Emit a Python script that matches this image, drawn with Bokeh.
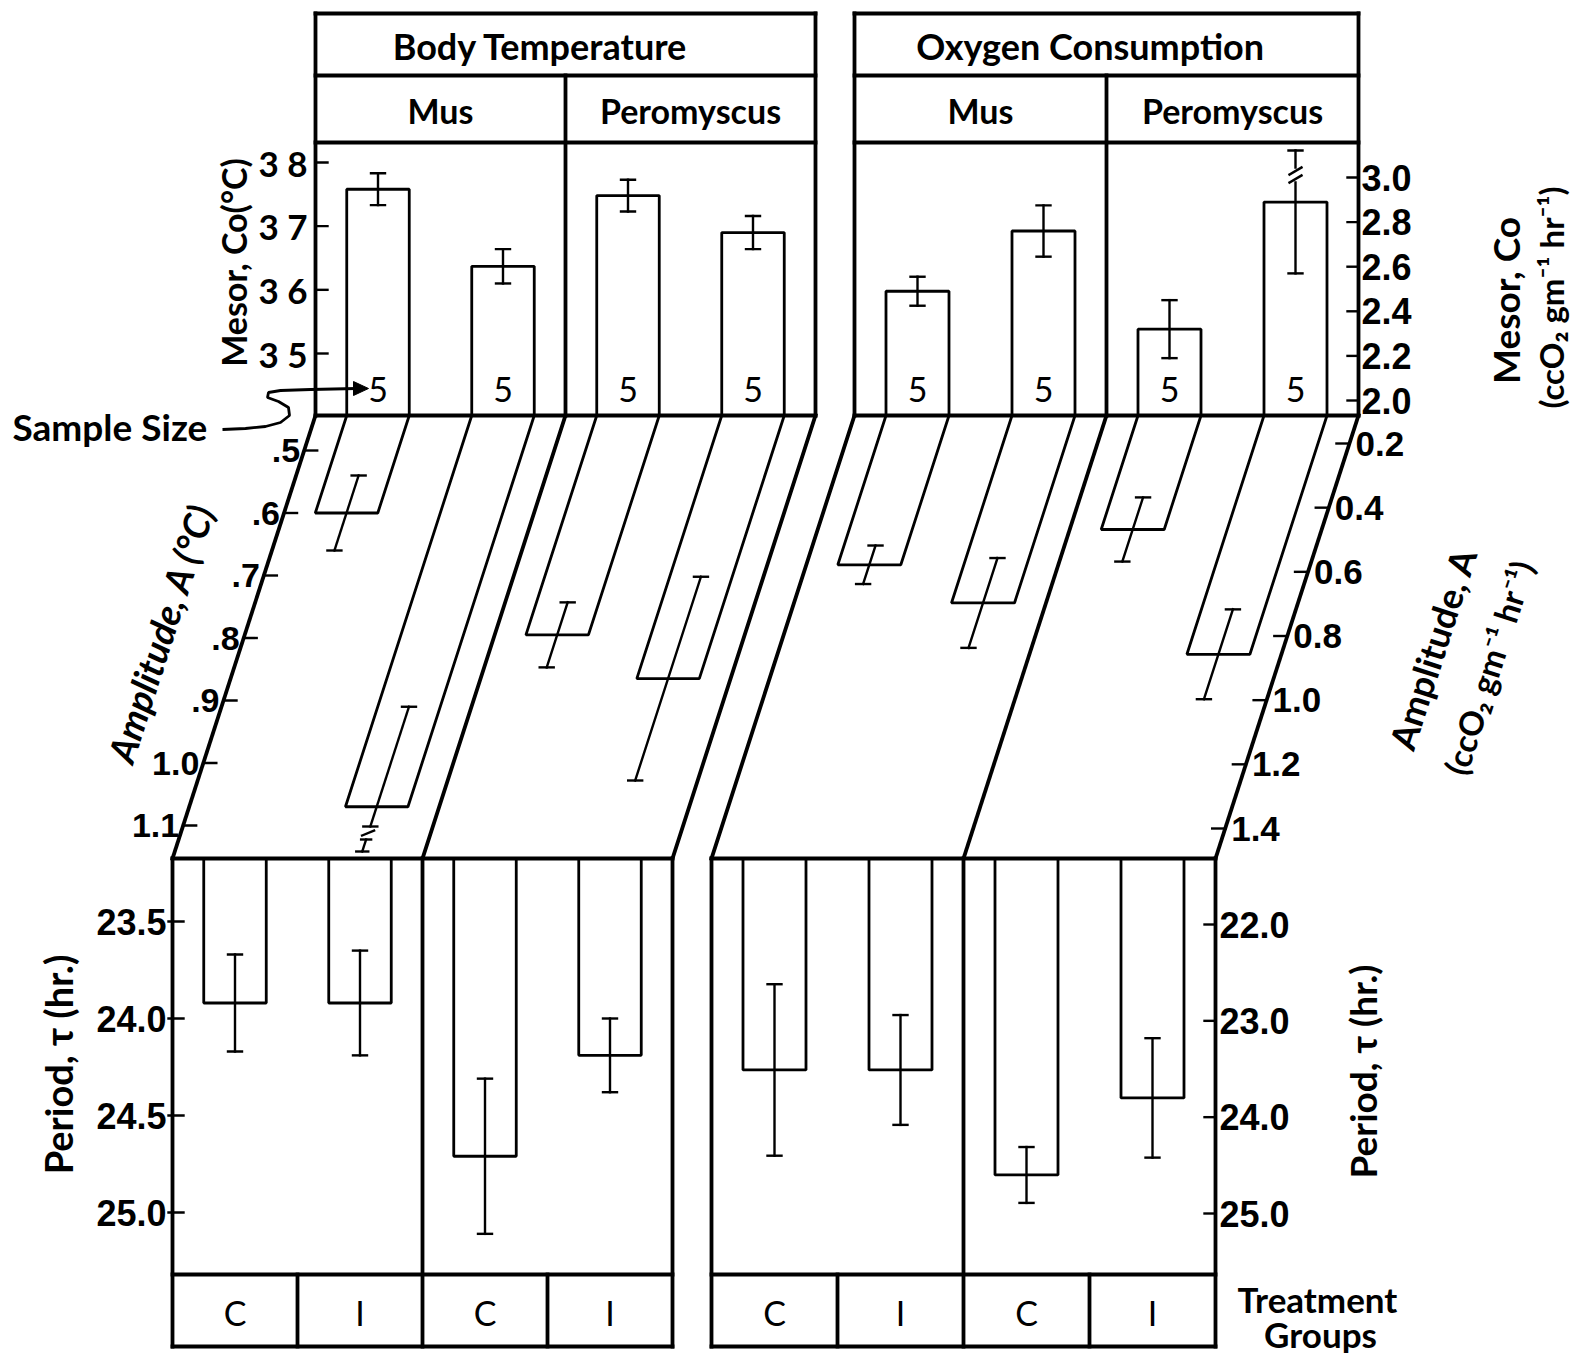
import math
from bokeh.plotting import figure
from bokeh.models import Range1d
from bokeh.core.properties import value
from bokeh.embed import file_html
from bokeh.resources import INLINE

# ---------------- data ----------------
panel_titles = ["Body Temperature", "Oxygen  Consumption"]
genera = ["Mus", "Peromyscus"]
treatments = ["C", "I", "C", "I"]

sample_size_bt = [5, 5, 5, 5]
sample_size_o2 = [5, 5, 5, 5]

bt_mesor = [37.58, 36.37, 37.48, 36.90]
bt_mesor_err = [0.25, 0.27, 0.25, 0.26]
o2_mesor = [2.49, 2.76, 2.32, 2.89]
o2_mesor_err = [0.065, 0.115, 0.13, 0.32]

bt_amp = [0.60, 1.07, 0.795, 0.865]
bt_amp_err = [0.06, 0.16, 0.052, 0.163]
o2_amp = [0.578, 0.697, 0.468, 0.857]
o2_amp_err = [0.06, 0.14, 0.10, 0.14]

bt_period = [23.92, 23.92, 24.71, 24.19]
bt_period_err = [0.25, 0.27, 0.40, 0.19]
o2_period = [23.51, 23.51, 24.60, 23.80]
o2_period_err = [0.89, 0.57, 0.29, 0.62]

bt_mesor_ticks = [35, 36, 37, 38]
bt_mesor_labels = ["3 5", "3 6", "3 7", "3 8"]
o2_mesor_ticks = [2.0, 2.2, 2.4, 2.6, 2.8, 3.0]
o2_mesor_labels = ["2.0", "2.2", "2.4", "2.6", "2.8", "3.0"]
bt_amp_ticks = [0.5, 0.6, 0.7, 0.8, 0.9, 1.0, 1.1]
bt_amp_labels = [".5", ".6", ".7", ".8", ".9", "1.0", "1.1"]
o2_amp_ticks = [0.2, 0.4, 0.6, 0.8, 1.0, 1.2, 1.4]
o2_amp_labels = ["0.2", "0.4", "0.6", "0.8", "1.0", "1.2", "1.4"]
bt_period_ticks = [23.5, 24.0, 24.5, 25.0]
bt_period_labels = ["23.5", "24.0", "24.5", "25.0"]
o2_period_ticks = [22.0, 23.0, 24.0, 25.0]
o2_period_labels = ["22.0", "23.0", "24.0", "25.0"]

# ---------------- layout / style ----------------
W, H = 1575, 1353
TOP, HDR, SUB, MES_BOT, AMP_BOT, PER_BOT, TRT_BOT = 13, 75, 142, 415, 858, 1274, 1346
SHIFT = 143
S = SHIFT / (AMP_BOT - MES_BOT)
BLOCKS = {"bt": (315, 815), "o2": (854, 1358)}
TITLE_DX = {"bt": -25, "o2": -12}
FONT = value("Lato")
NUMF = value("Liberation Sans Narrow, Liberation Sans, sans-serif")
FRAME_W = 3.8
BAR_W = 2.8
ERR_W = 2.4
CAP = 7


def lin(va, pa, vb, pb):
    k = (pb - pa) / (vb - va)
    return (lambda v: pa + (v - va) * k), (lambda px: va + (px - pa) / k)


AX = {
    "bt_mes": lin(38, 162, 35, 353),
    "o2_mes": lin(3.0, 177, 2.0, 400),
    "bt_amp": lin(0.5, 450, 1.1, 825),
    "o2_amp": lin(0.2, 443, 1.4, 828),
    "bt_per": lin(23.5, 921, 25.0, 1212),
    "o2_per": lin(22.0, 924, 25.0, 1213),
}

p = figure(width=W, height=H, x_range=Range1d(0, W), y_range=Range1d(H, 0),
           output_backend="svg", toolbar_location=None, min_border=0,
           x_axis_location=None, y_axis_location=None, outline_line_color=None,
           background_fill_color="white", border_fill_color="white")
p.grid.visible = False
p.extra_y_ranges = {k: Range1d(start=inv(H), end=inv(0)) for k, (f, inv) in AX.items()}


def seg(x0, y0, x1, y1, rn="default", lw=ERR_W):
    p.segment(x0=x0, y0=y0, x1=x1, y1=y1, y_range_name=rn, line_color="black", line_width=lw,
              line_cap="square")


def txt(x, y, t, size, rn="default", align="center", font=FONT, angle=0.0, style="bold", baseline="middle"):
    p.text(x=x, y=y, text=t, y_range_name=rn, text_font=font, text_font_size=f"{size}px",
           text_align=align, text_baseline=baseline, angle=angle, text_font_style=style,
           text_color="black")


data = {
    "bt": dict(mes=bt_mesor, mes_e=bt_mesor_err, amp=bt_amp, amp_e=bt_amp_err,
               per=bt_period, per_e=bt_period_err, n=sample_size_bt),
    "o2": dict(mes=o2_mesor, mes_e=o2_mesor_err, amp=o2_amp, amp_e=o2_amp_err,
               per=o2_period, per_e=o2_period_err, n=sample_size_o2),
}

for bi, key in enumerate(["bt", "o2"]):
    x0, x1 = BLOCKS[key]
    xm = (x0 + x1) / 2
    w = (x1 - x0) / 4
    cs = [x0 + (i + 0.5) * w for i in range(4)]
    cb = [c - SHIFT for c in cs]
    d = data[key]

    # ---- mesor (top) ----
    rn = key + "_mes"
    f, inv = AX[rn]
    p.vbar(x=cs, width=w / 2, bottom=inv(MES_BOT), top=d["mes"], y_range_name=rn,
           fill_color="white", line_color="black", line_width=BAR_W)
    for i, c in enumerate(cs):
        lo, hi = d["mes"][i] - d["mes_e"][i], d["mes"][i] + d["mes_e"][i]
        seg([c - CAP], [lo], [c + CAP], [lo], rn)
        if f(hi) < SUB + 20:  # beyond the panel: broken bar
            seg([c], [lo], [c], [inv(SUB + 40)], rn)
            for yb in (SUB + 37, SUB + 29):
                seg([c - 6], [inv(yb + 3)], [c + 6], [inv(yb - 4)], rn)
            seg([c], [inv(SUB + 25)], [c], [inv(SUB + 8)], rn)
            seg([c - CAP], [inv(SUB + 8)], [c + CAP], [inv(SUB + 8)], rn)
        else:
            seg([c], [lo], [c], [hi], rn)
            seg([c - CAP], [hi], [c + CAP], [hi], rn)
    txt(cs, [inv(389)] * 4, [str(n) for n in d["n"]], 34, rn, style="normal")

    # ---- amplitude (sheared middle) ----
    rn = key + "_amp"
    f, inv = AX[rn]
    vtop = inv(MES_BOT)
    xs_l, ys_l = [], []
    for i, c in enumerate(cs):
        v = d["amp"][i]
        dx = S * (f(v) - MES_BOT)
        xs_l.append([c - w / 4, c + w / 4, c + w / 4 - dx, c - w / 4 - dx])
        ys_l.append([vtop, vtop, v, v])
    p.patches(xs_l, ys_l, y_range_name=rn, fill_color="white", line_color="black", line_width=BAR_W)
    for i, c in enumerate(cs):
        v, e = d["amp"][i], d["amp_e"][i]
        xat = lambda u, c=c: c - S * (f(u) - MES_BOT)
        lo, hi = v - e, v + e  # lo is higher on page
        seg([xat(lo) - CAP], [lo], [xat(lo) + CAP], [lo], rn)
        if f(hi) > AMP_BOT - 20:  # beyond the panel: broken bar
            u1 = inv(AMP_BOT - 32)
            seg([xat(lo)], [lo], [xat(u1)], [u1], rn)
            seg([xat(u1) - CAP], [u1], [xat(u1) + CAP], [u1], rn)
            ub = inv(AMP_BOT - 25)
            seg([xat(ub) - 6], [inv(AMP_BOT - 23)], [xat(ub) + 6], [inv(AMP_BOT - 28)], rn)
            ua, uz = inv(AMP_BOT - 19), inv(AMP_BOT - 7)
            seg([xat(ua)], [ua], [xat(uz)], [uz], rn)
            seg([xat(ua) - 5, xat(uz) - 6], [ua, uz], [xat(ua) + 5, xat(uz) + 6], [ua, uz], rn)
        else:
            seg([xat(lo)], [lo], [xat(hi)], [hi], rn)
            seg([xat(hi) - CAP], [hi], [xat(hi) + CAP], [hi], rn)

    # ---- period (bottom) ----
    rn = key + "_per"
    f, inv = AX[rn]
    p.vbar(x=cb, width=w / 2, bottom=inv(AMP_BOT), top=d["per"], y_range_name=rn,
           fill_color="white", line_color="black", line_width=BAR_W)
    lo = [v - e for v, e in zip(d["per"], d["per_e"])]
    hi = [v + e for v, e in zip(d["per"], d["per_e"])]
    seg(cb, lo, cb, hi, rn)
    seg([c - CAP for c in cb], lo, [c + CAP for c in cb], lo, rn)
    seg([c - CAP for c in cb], hi, [c + CAP for c in cb], hi, rn)

    # ---- frames ----
    b0, b1, bm = x0 - SHIFT, x1 - SHIFT, xm - SHIFT
    frame = [
        (x0, TOP, x1, TOP), (x0, HDR, x1, HDR), (x0, SUB, x1, SUB), (x0, MES_BOT, x1, MES_BOT),
        (x0, TOP, x0, MES_BOT), (x1, TOP, x1, MES_BOT), (xm, HDR, xm, MES_BOT),
        (x0, MES_BOT, b0, AMP_BOT), (x1, MES_BOT, b1, AMP_BOT), (xm, MES_BOT, bm, AMP_BOT),
        (b0, AMP_BOT, b1, AMP_BOT),
        (b0, AMP_BOT, b0, TRT_BOT), (b1, AMP_BOT, b1, TRT_BOT), (bm, AMP_BOT, bm, TRT_BOT),
        (b0, PER_BOT, b1, PER_BOT), (b0, TRT_BOT, b1, TRT_BOT),
        (b0 + w, PER_BOT, b0 + w, TRT_BOT), (b0 + 3 * w, PER_BOT, b0 + 3 * w, TRT_BOT),
    ]
    seg([s_[0] for s_ in frame], [s_[1] for s_ in frame], [s_[2] for s_ in frame],
        [s_[3] for s_ in frame], lw=FRAME_W)
    txt(cb, [(PER_BOT + TRT_BOT) / 2 + 2] * 4, treatments, 34, style="normal")

    # ---- headers ----
    txt([xm + TITLE_DX[key]], [45], [panel_titles[bi]], 36)
    txt([(x0 + xm) / 2, (xm + x1) / 2], [110, 110], genera, 34)

# ---------------- axes ----------------
# body temperature mesor (left, top)
f, inv = AX["bt_mes"]
x0 = BLOCKS["bt"][0]
seg([x0] * 4, bt_mesor_ticks, [x0 + 12] * 4, bt_mesor_ticks, "bt_mes", lw=2.4)
txt([x0 - 8] * 4, bt_mesor_ticks, bt_mesor_labels, 35, "bt_mes", align="right")

# oxygen mesor (right, top)
x1 = BLOCKS["o2"][1]
n = len(o2_mesor_ticks)
seg([x1 - 11] * n, o2_mesor_ticks, [x1] * n, o2_mesor_ticks, "o2_mes", lw=2.4)
txt([x1 + 3] * n, o2_mesor_ticks, o2_mesor_labels, 36, "o2_mes", align="left", font=NUMF)

# body temperature amplitude (sheared left edge)
f, inv = AX["bt_amp"]
x0 = BLOCKS["bt"][0]
ex = [x0 - S * (f(v) - MES_BOT) for v in bt_amp_ticks]
seg(ex, bt_amp_ticks, [e + 13 for e in ex], bt_amp_ticks, "bt_amp", lw=2.4)
txt([e - 4 for e in ex], bt_amp_ticks, bt_amp_labels, 34, "bt_amp", align="right", font=NUMF)

# oxygen amplitude (sheared right edge)
f, inv = AX["o2_amp"]
x1 = BLOCKS["o2"][1]
ex = [x1 - S * (f(v) - MES_BOT) for v in o2_amp_ticks]
seg([e - 13 for e in ex], o2_amp_ticks, ex, o2_amp_ticks, "o2_amp", lw=2.4)
txt([e + 6 for e in ex], o2_amp_ticks, o2_amp_labels, 35, "o2_amp", align="left", font=NUMF)

# body temperature period (left, bottom)
xb = BLOCKS["bt"][0] - SHIFT
n = len(bt_period_ticks)
seg([xb - 4] * n, bt_period_ticks, [xb + 11] * n, bt_period_ticks, "bt_per", lw=2.4)
txt([xb - 6] * n, bt_period_ticks, bt_period_labels, 36, "bt_per", align="right", font=NUMF)

# oxygen period (right, bottom)
xb = BLOCKS["o2"][1] - SHIFT
n = len(o2_period_ticks)
seg([xb - 11] * n, o2_period_ticks, [xb] * n, o2_period_ticks, "o2_per", lw=2.4)
txt([xb + 4] * n, o2_period_ticks, o2_period_labels, 36, "o2_per", align="left", font=NUMF)

# ---------------- axis titles ----------------
VERT = math.pi / 2
SLANT = math.atan2(AMP_BOT - MES_BOT, SHIFT)
txt([233], [262], ["Mesor, Co(°C)"], 34, angle=VERT)
txt([1505], [300], ["Mesor, Co"], 37, angle=VERT)
txt([1550], [297], ["(ccO₂ gm⁻¹ hr⁻¹)"], 33, angle=VERT)
txt([160], [632], ["Amplitude, A (°C)"], 37, angle=SLANT, style="bold italic")
txt([1432], [648], ["Amplitude, A"], 36, angle=SLANT)
txt([1488], [667], ["(ccO₂ gm⁻¹ hr⁻¹)"], 33, angle=SLANT)
txt([57], [1064], ["Period, τ (hr.)"], 38, angle=VERT)
txt([1362], [1071], ["Period, τ (hr.)"], 37, angle=VERT)
txt([1317], [1298], ["Treatment"], 35)
txt([1320], [1333], ["Groups"], 35)

# sample size annotation
txt([12], [426], ["Sample Size"], 37, align="left")
ax_ = [222, 245, 265, 280, 289, 288, 278, 267, 268, 280, 310, 356]
ay_ = [429, 428, 426, 422, 415, 407, 401, 397, 392, 390, 389, 388]
p.line(ax_, ay_, line_color="black", line_width=2.8)
p.patch([368, 353, 353], [388, 381, 395], fill_color="black", line_color="black", line_width=1)

open("out.html", "w").write(file_html(p, INLINE))
